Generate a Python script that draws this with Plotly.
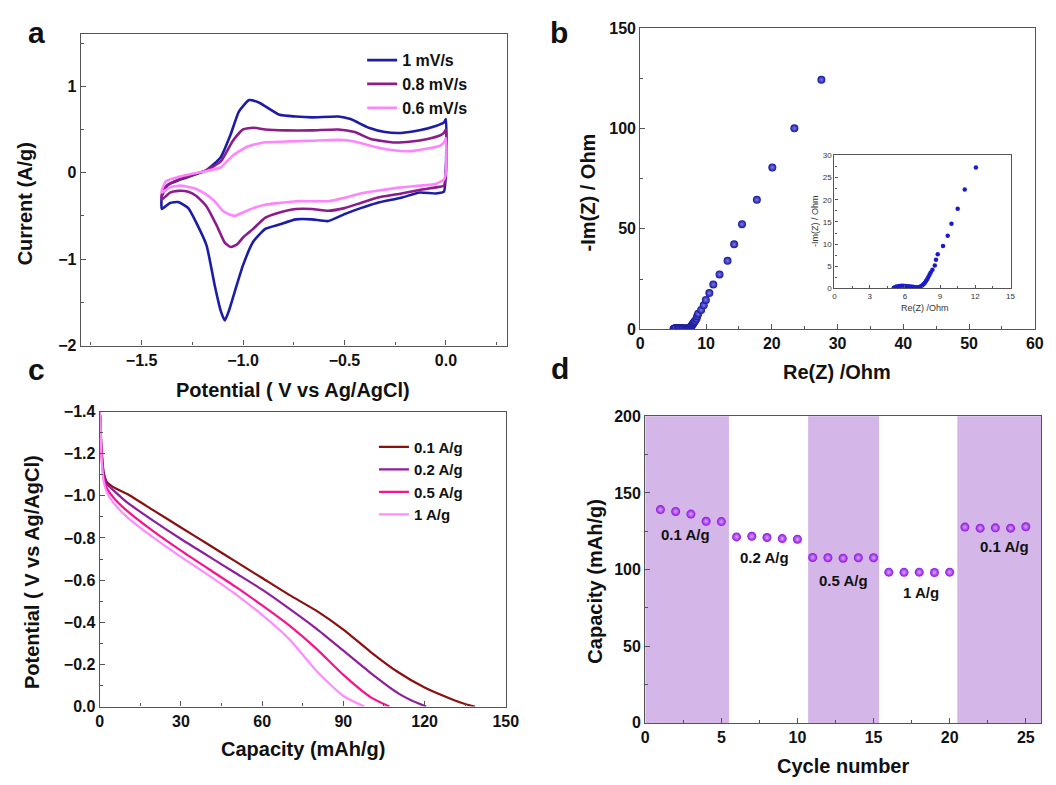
import plotly.graph_objects as go

W, H = 1056, 785
FONT = "Liberation Sans, Arial, sans-serif"

# ---------------- Panel a: cyclic voltammetry ----------------
cv_labels = ["1 mV/s", "0.8 mV/s", "0.6 mV/s"]
cv_colors = ["#1c1ca6", "#8c1c8c", "#ff85ff"]

cv1_x = [-1.40, -1.37, -1.31, -1.18, -1.11, -1.06, -1.02, -0.97, -0.92, -0.82, -0.74, -0.66, -0.53, -0.47,
         -0.38, -0.30, -0.22, -0.13, -0.05, -0.01, 0.0, 0.0, -0.01, -0.05, -0.13, -0.22, -0.34, -0.42,
         -0.50, -0.58, -0.66, -0.74, -0.82, -0.89, -0.95, -1.00, -1.04, -1.07, -1.09, -1.11, -1.14, -1.18,
         -1.23, -1.27, -1.32, -1.36, -1.40, -1.40]
cv1_y = [-0.27, -0.14, -0.08, 0.03, 0.18, 0.45, 0.71, 0.84, 0.81, 0.67, 0.65, 0.64, 0.65, 0.62,
         0.52, 0.47, 0.46, 0.49, 0.54, 0.58, 0.62, 0.05, -0.22, -0.24, -0.23, -0.29, -0.35, -0.41,
         -0.48, -0.56, -0.54, -0.54, -0.60, -0.65, -0.80, -1.07, -1.37, -1.60, -1.71, -1.60, -1.30, -0.84,
         -0.58, -0.41, -0.34, -0.35, -0.42, -0.27]

cv2_x = [-1.40, -1.38, -1.32, -1.18, -1.11, -1.05, -1.00, -0.95, -0.89, -0.79, -0.66, -0.53, -0.45, -0.37,
         -0.26, -0.17, -0.09, -0.03, -0.01, 0.0, 0.0, -0.01, -0.05, -0.13, -0.22, -0.34, -0.42, -0.50,
         -0.58, -0.66, -0.74, -0.82, -0.89, -0.95, -1.00, -1.03, -1.06, -1.09, -1.13, -1.18, -1.23, -1.27,
         -1.32, -1.36, -1.40, -1.40]
cv2_y = [-0.24, -0.16, -0.08, 0.03, 0.13, 0.37, 0.50, 0.52, 0.50, 0.49, 0.49, 0.50, 0.47, 0.39,
         0.35, 0.36, 0.39, 0.43, 0.46, 0.50, 0.0, -0.15, -0.17, -0.20, -0.24, -0.29, -0.35, -0.41,
         -0.44, -0.42, -0.42, -0.46, -0.52, -0.65, -0.75, -0.83, -0.86, -0.81, -0.61, -0.39, -0.27, -0.22,
         -0.21, -0.23, -0.31, -0.24]

cv3_x = [-1.40, -1.38, -1.32, -1.18, -1.11, -1.05, -0.98, -0.90, -0.79, -0.66, -0.53, -0.45, -0.37, -0.26,
         -0.17, -0.09, -0.03, -0.01, 0.0, 0.0, -0.01, -0.05, -0.13, -0.22, -0.34, -0.42, -0.50, -0.58,
         -0.66, -0.74, -0.82, -0.89, -0.95, -1.00, -1.04, -1.06, -1.10, -1.14, -1.19, -1.24, -1.31, -1.36,
         -1.40, -1.40]
cv3_y = [-0.20, -0.10, -0.05, 0.02, 0.06, 0.20, 0.30, 0.35, 0.36, 0.37, 0.38, 0.36, 0.31, 0.26,
         0.25, 0.28, 0.31, 0.35, 0.40, 0.0, -0.08, -0.13, -0.15, -0.17, -0.21, -0.24, -0.29, -0.33,
         -0.33, -0.33, -0.35, -0.37, -0.41, -0.46, -0.50, -0.49, -0.44, -0.33, -0.24, -0.18, -0.15, -0.17,
         -0.23, -0.20]

# ---------------- Panel b: Nyquist plot ----------------
eis_re = [5.05, 5.15, 5.3, 5.5, 5.7, 5.9, 6.1, 6.3, 6.5, 6.7, 6.9, 7.05, 7.2, 7.3, 7.4, 7.5, 7.6, 7.7,
          7.8, 7.9, 8.0, 8.1, 8.2, 8.35, 8.55, 8.65, 8.8, 9.25, 9.65, 9.97, 10.5, 11.1, 12.05, 13.27,
          14.27, 15.47, 17.73, 20.08, 23.43, 27.54]
eis_im = [0.1, 0.3, 0.45, 0.55, 0.6, 0.6, 0.55, 0.5, 0.45, 0.4, 0.3, 0.3, 0.3, 0.4, 0.55, 0.75, 1.0, 1.3,
          1.7, 2.1, 2.6, 3.1, 3.6, 4.2, 5.2, 6.5, 7.7, 9.6, 11.9, 14.6, 18.0, 22.3, 27.3, 34.1,
          42.3, 52.3, 64.5, 80.6, 100.1, 124.3]

# ---------------- Panel c: discharge curves ----------------
gcd_labels = ["0.1 A/g", "0.2 A/g", "0.5 A/g", "1 A/g"]
gcd_colors = ["#8b1010", "#8e1f9c", "#f5148c", "#ff8cff"]
gcd01_x = [0, 0.25, 0.6, 1.5, 2.7, 5.2, 10, 20, 30, 40, 50, 60, 70, 80, 90, 100, 110, 120, 130, 135, 138.6]
gcd01_y = [-1.40, -1.36, -1.24, -1.11, -1.065, -1.04, -1.01, -0.93, -0.85, -0.77, -0.69, -0.61, -0.53,
           -0.455, -0.365, -0.26, -0.165, -0.09, -0.035, -0.012, 0.0]
gcd02_x = [0, 0.25, 0.6, 1.5, 2.7, 5.2, 10, 20, 30, 40, 50, 60, 70, 80, 90, 100, 110, 115, 120.6]
gcd02_y = [-1.40, -1.36, -1.23, -1.10, -1.055, -1.025, -0.97, -0.88, -0.795, -0.715, -0.635, -0.555,
           -0.465, -0.37, -0.265, -0.16, -0.065, -0.03, 0.0]
gcd05_x = [0, 0.25, 0.6, 1.5, 2.7, 5.2, 10, 20, 30, 40, 50, 60, 70, 80, 90, 100, 107]
gcd05_y = [-1.40, -1.36, -1.20, -1.08, -1.035, -0.99, -0.93, -0.83, -0.74, -0.655, -0.57, -0.48,
           -0.385, -0.275, -0.15, -0.045, 0.0]
gcd1_x = [0, 0.25, 0.6, 1.5, 2.7, 5.2, 10, 20, 30, 40, 50, 60, 70, 80, 90, 97.8]
gcd1_y = [-1.40, -1.36, -1.20, -1.065, -1.015, -0.965, -0.90, -0.80, -0.71, -0.625, -0.535, -0.435,
          -0.32, -0.17, -0.05, 0.0]

# ---------------- Panel d: rate capability ----------------
cycle_no = list(range(1, 26))
capacity = [139.1, 137.9, 136.2, 131.5, 131.3, 121.3, 121.7, 120.9, 120.2, 119.8,
            107.9, 107.7, 107.4, 107.7, 107.7, 98.3, 98.2, 98.3, 98.1, 98.3,
            127.7, 127.0, 127.2, 127.0, 127.9]
rate_labels = ["0.1 A/g", "0.2 A/g", "0.5 A/g", "1 A/g", "0.1 A/g"]
rate_bands = [(0, 5.5), (10.7, 15.36), (20.5, 26)]


def px_x(p):
    return p / W


def px_y(p):
    return 1 - p / H


fig = go.Figure()

for xs, ys, name, col in zip([cv1_x, cv2_x, cv3_x], [cv1_y, cv2_y, cv3_y], cv_labels, cv_colors):
    fig.add_trace(go.Scatter(x=xs, y=ys, mode="lines", name=name,
                             line=dict(color=col, width=2.6, shape="spline", smoothing=0.5),
                             xaxis="x", yaxis="y", legend="legend"))

fig.add_trace(go.Scatter(x=eis_re, y=eis_im, mode="markers", showlegend=False,
                         marker=dict(size=8, color="#15159a",
                                     gradient=dict(type="radial", color="#7d7df0"),
                                     line=dict(width=0)),
                         xaxis="x2", yaxis="y2"))
inset_re = [r for r, i in zip(eis_re, eis_im) if r <= 15 and i <= 30]
inset_im = [i for r, i in zip(eis_re, eis_im) if r <= 15 and i <= 30]
fig.add_trace(go.Scatter(x=inset_re, y=inset_im, mode="markers", showlegend=False,
                         marker=dict(size=4.5, color="#1a1ad0", line=dict(width=0)),
                         xaxis="x3", yaxis="y3"))

for xs, ys, name, col in zip([gcd01_x, gcd02_x, gcd05_x, gcd1_x], [gcd01_y, gcd02_y, gcd05_y, gcd1_y],
                             gcd_labels, gcd_colors):
    fig.add_trace(go.Scatter(x=xs, y=ys, mode="lines", name=name,
                             line=dict(color=col, width=2.2, shape="spline", smoothing=0.6),
                             xaxis="x4", yaxis="y4", legend="legend2"))

fig.add_trace(go.Scatter(x=cycle_no, y=capacity, mode="markers", showlegend=False,
                         marker=dict(size=9, color="#8f10e0",
                                     gradient=dict(type="radial", color="#d9a8ff"),
                                     line=dict(width=0)),
                         xaxis="x5", yaxis="y5"))

for x0, x1 in rate_bands:
    fig.add_shape(type="rect", xref="x5", yref="y5 domain", x0=x0, x1=x1, y0=0, y1=1,
                  fillcolor="#d5b6e8", line=dict(width=0), layer="below")

tickfont = dict(family=FONT, size=16, color="#111", weight="bold")


def ax(dom, rng, dtick, minor, fmt=None, anchor=None, font=tickfont, tl=5, mtl=3):
    d = dict(domain=dom, range=rng, dtick=dtick, tick0=0, ticks="inside", ticklen=tl, tickwidth=1,
             tickcolor="#555", showline=True, linecolor="#555", linewidth=1.2, mirror=True,
             showgrid=False, zeroline=False, tickfont=font, anchor=anchor,
             minor=dict(ticks="inside", ticklen=mtl, dtick=minor, tickcolor="#555", showgrid=False))
    if fmt:
        d["tickformat"] = fmt
    return d


insetfont = dict(family=FONT, size=8, color="#333")

fig.update_layout(
    width=W, height=H, margin=dict(l=0, r=0, t=0, b=0),
    paper_bgcolor="white", plot_bgcolor="rgba(0,0,0,0)",
    xaxis=ax([px_x(78), px_x(511)], [-1.8, 0.3], 0.5, 0.25, ".1f", "y"),
    yaxis=ax([px_y(345), px_y(27)], [-2, 1.6], 1, 0.5, None, "x"),
    xaxis2=ax([px_x(646.7), px_x(1047.7)], [0, 60], 10, 5, None, "y2"),
    yaxis2=ax([px_y(328.3), px_y(20.7)], [0, 150], 50, 25, None, "x2"),
    xaxis3=ax([px_x(844), px_x(1023)], [0, 15], 3, 1.5, None, "y3", insetfont, 3, 2),
    yaxis3=ax([px_y(286.7), px_y(150.7)], [0, 30], 5, 2.5, None, "x3", insetfont, 3, 2),
    xaxis4=ax([px_x(97.3), px_x(510)], [0, 150], 30, 15, None, "y4"),
    yaxis4=ax([px_y(714), px_y(412.5)], [0, -1.4], 0.2, 0.1, ".1f", "x4"),
    xaxis5=ax([px_x(651.7), px_x(1054)], [0, 26], 5, 2.5, None, "y5"),
    yaxis5=ax([px_y(730.7), px_y(417.3)], [0, 200], 50, 25, None, "x5"),
    legend=dict(x=px_x(364), y=px_y(36), xanchor="left", yanchor="top", bgcolor="rgba(0,0,0,0)",
                font=dict(family=FONT, size=16, color="#111", weight="bold"), tracegroupgap=0),
    legend2=dict(x=px_x(376), y=px_y(432), xanchor="left", yanchor="top", bgcolor="rgba(0,0,0,0)",
                 font=dict(family=FONT, size=15, color="#111", weight="bold"), tracegroupgap=0),
    showlegend=True,
)

titlefont = dict(family=FONT, size=20, color="#111", weight="bold")
annots = [
    ("Potential ( V vs Ag/AgCl)", 294, 390, 0, titlefont),
    ("Current (A/g)", 21, 200, -90, titlefont),
    ("Re(Z) /Ohm", 847, 372, 0, titlefont),
    ("-Im(Z) / Ohm", 593, 188, -90, titlefont),
    ("Capacity (mAh/g)", 304, 757, 0, titlefont),
    ("Potential ( V vs Ag/AgCl)", 28, 577, -90, titlefont),
    ("Cycle number", 853, 775, 0, titlefont),
    ("Capacity (mAh/g)", 601, 586, -90, titlefont),
    ("Re(Z) /Ohm", 936, 307, 0, dict(family=FONT, size=9, color="#333")),
    ("-Im(Z) / Ohm", 825, 218, -90, dict(family=FONT, size=9, color="#333")),
]
for text, x, y, ang, f in annots:
    fig.add_annotation(text=text, x=px_x(x), y=px_y(y), xref="paper", yref="paper",
                       showarrow=False, textangle=ang, font=f, xanchor="center", yanchor="middle")

letterfont = dict(family=FONT, size=30, color="#111", weight="bold")
for text, x, y in [("a", 33, 25), ("b", 564, 25), ("c", 33, 370), ("d", 565, 368)]:
    fig.add_annotation(text=text, x=px_x(x), y=px_y(y), xref="paper", yref="paper",
                       showarrow=False, font=letterfont, xanchor="center", yanchor="middle")

label_pos = [(2.66, 122.8), (7.85, 107.9), (13.0, 93.0), (18.1, 85.1), (23.6, 114.9)]
for text, (lx, ly) in zip(rate_labels, label_pos):
    fig.add_annotation(text=text, x=lx, y=ly, xref="x5", yref="y5", showarrow=False,
                       font=dict(family=FONT, size=15, color="#111", weight="bold"))

fig.write_html("out.html", config={"displayModeBar": False},
               post_script="document.body.style.margin='0';document.body.style.overflow='hidden';")
